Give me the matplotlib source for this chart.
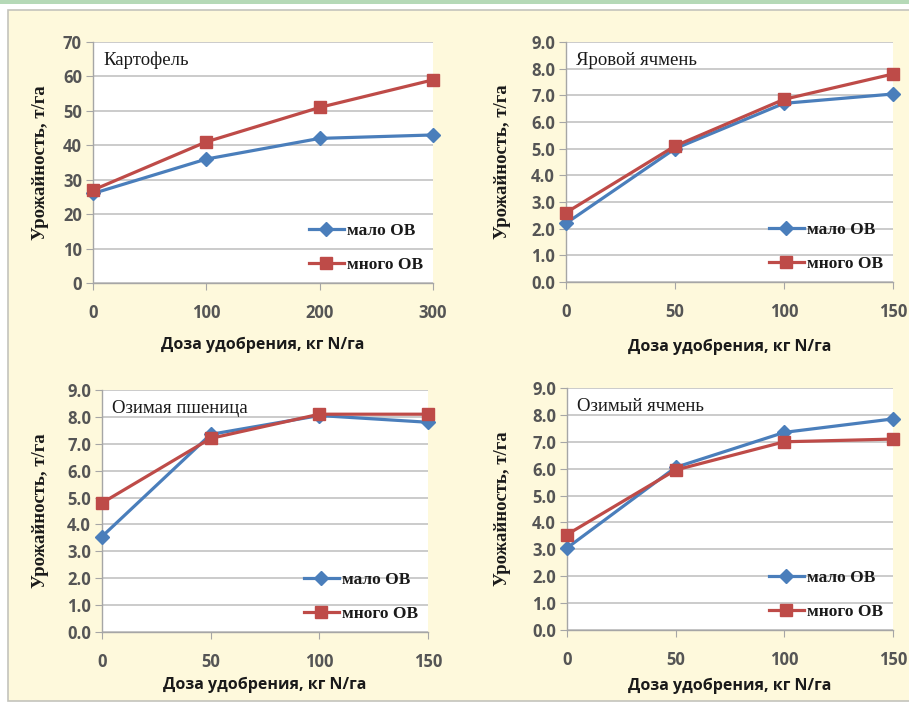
import matplotlib
matplotlib.use("Agg")
import matplotlib.pyplot as plt
from matplotlib.patches import Rectangle

# ---------------- data ----------------
titles = ["Картофель", "Яровой ячмень", "Озимая пшеница", "Озимый ячмень"]
x_potato = [0, 100, 200, 300]
x_cereal = [0, 50, 100, 150]

potato_low = [26, 36, 42, 43]
potato_high = [27, 41, 51, 59]

spring_barley_low = [2.2, 5.0, 6.7, 7.05]
spring_barley_high = [2.6, 5.1, 6.85, 7.8]

winter_wheat_low = [3.55, 7.35, 8.05, 7.8]
winter_wheat_high = [4.8, 7.2, 8.1, 8.1]

winter_barley_low = [3.05, 6.05, 7.35, 7.85]
winter_barley_high = [3.55, 5.95, 7.0, 7.1]

series_names = ["мало ОВ", "много ОВ"]
xlabel = "Доза удобрения, кг N/га"
ylabel = "Урожайность, т/га"

W, H = 909, 704
fig = plt.figure(figsize=(W / 100, H / 100), dpi=100)
fig.patch.set_facecolor("white")

# cream panel with thin border and green top strip
fig.add_artist(Rectangle((0, 1 - 4 / H), 1, 4 / H, transform=fig.transFigure,
                         facecolor="#b5d9b7", edgecolor="none", zorder=0))
fig.add_artist(Rectangle((8 / W, 3 / H), 1.0, 1 - 13 / H, transform=fig.transFigure,
                         facecolor="#fef9dc", edgecolor="#c4c4bc", linewidth=1.2, zorder=0))

BLUE = "#4a7ebb"
RED = "#be4b48"
GRID = "#bdbdbd"
TICKC = "#555555"

def px_axes(left, right, top, bottom):
    return fig.add_axes([left / W, 1 - bottom / H, (right - left) / W, (bottom - top) / H])

panels = [
    dict(box=(93, 433, 42, 283), x=x_potato, low=potato_low, high=potato_high,
         ymax=70, ystep=10, fmt="{:.0f}", xlab_y=345, ylab_x=41),
    dict(box=(566, 893, 42, 282), x=x_cereal, low=spring_barley_low, high=spring_barley_high,
         ymax=9, ystep=1, fmt="{:.1f}", xlab_y=347, ylab_x=503),
    dict(box=(102, 428, 390, 632), x=x_cereal, low=winter_wheat_low, high=winter_wheat_high,
         ymax=9, ystep=1, fmt="{:.1f}", xlab_y=685, ylab_x=41),
    dict(box=(567, 893, 388, 630), x=x_cereal, low=winter_barley_low, high=winter_barley_high,
         ymax=9, ystep=1, fmt="{:.1f}", xlab_y=686, ylab_x=503),
]

for title, p in zip(titles, panels):
    l, r, t, b = p["box"]
    ax = px_axes(l, r, t, b)
    ax.set_facecolor("white")
    xs = p["x"]
    ax.plot(xs, p["low"], color=BLUE, lw=2.3, marker="D", markersize=7,
            label=series_names[0], zorder=3, clip_on=False)
    ax.plot(xs, p["high"], color=RED, lw=2.3, marker="s", markersize=9,
            label=series_names[1], zorder=4, clip_on=False)
    ax.set_xlim(xs[0], xs[-1])
    ax.set_ylim(0, p["ymax"])
    yt = [i * p["ystep"] for i in range(int(round(p["ymax"] / p["ystep"])) + 1)]
    ax.set_yticks(yt)
    ax.set_yticklabels([p["fmt"].format(v) for v in yt])
    ax.set_xticks(xs)
    ax.set_xticklabels([str(v) for v in xs])
    ax.yaxis.grid(True, color=GRID, lw=1.1)
    ax.set_axisbelow(True)
    for s in ["top", "right"]:
        ax.spines[s].set_visible(False)
    for s in ["left", "bottom"]:
        ax.spines[s].set_color("#a6a6a6")
        ax.spines[s].set_linewidth(1.0)
    ax.tick_params(axis="x", direction="out", length=5, color="#a6a6a6", pad=10,
                   labelsize=12, labelcolor=TICKC)
    ax.tick_params(axis="y", direction="out", length=5, color="#a6a6a6", pad=3,
                   labelsize=12, labelcolor=TICKC)
    for lab in ax.get_xticklabels() + ax.get_yticklabels():
        lab.set_fontfamily("Open Sans")
        lab.set_fontweight("bold")
    ax.text(0.03, 0.96, title, transform=ax.transAxes, ha="left", va="top",
            fontsize=13.5, family="Liberation Serif", color="#1a1a1a")
    leg = ax.legend(loc="lower right", frameon=False, handlelength=2.0,
                    prop=dict(family="Liberation Serif", weight="bold", size=12.5),
                    labelspacing=1.05, handletextpad=0.2, borderaxespad=0.15)
    for txt in leg.get_texts():
        txt.set_color("#1a1a1a")
    # axis labels positioned in figure pixels
    fig.text((l + r) / 2 / W, 1 - p["xlab_y"] / H, xlabel, ha="center", va="center",
             fontsize=11.5, family="Open Sans", weight="bold", color="#1a1a1a")
    fig.text(p["ylab_x"] / W, 1 - (t + b) / 2 / H, ylabel, ha="center", va="center",
             rotation=90, fontsize=13.5, family="Liberation Serif", weight="bold",
             color="#1a1a1a")

fig.savefig("out.png", dpi=100, facecolor=fig.get_facecolor())
